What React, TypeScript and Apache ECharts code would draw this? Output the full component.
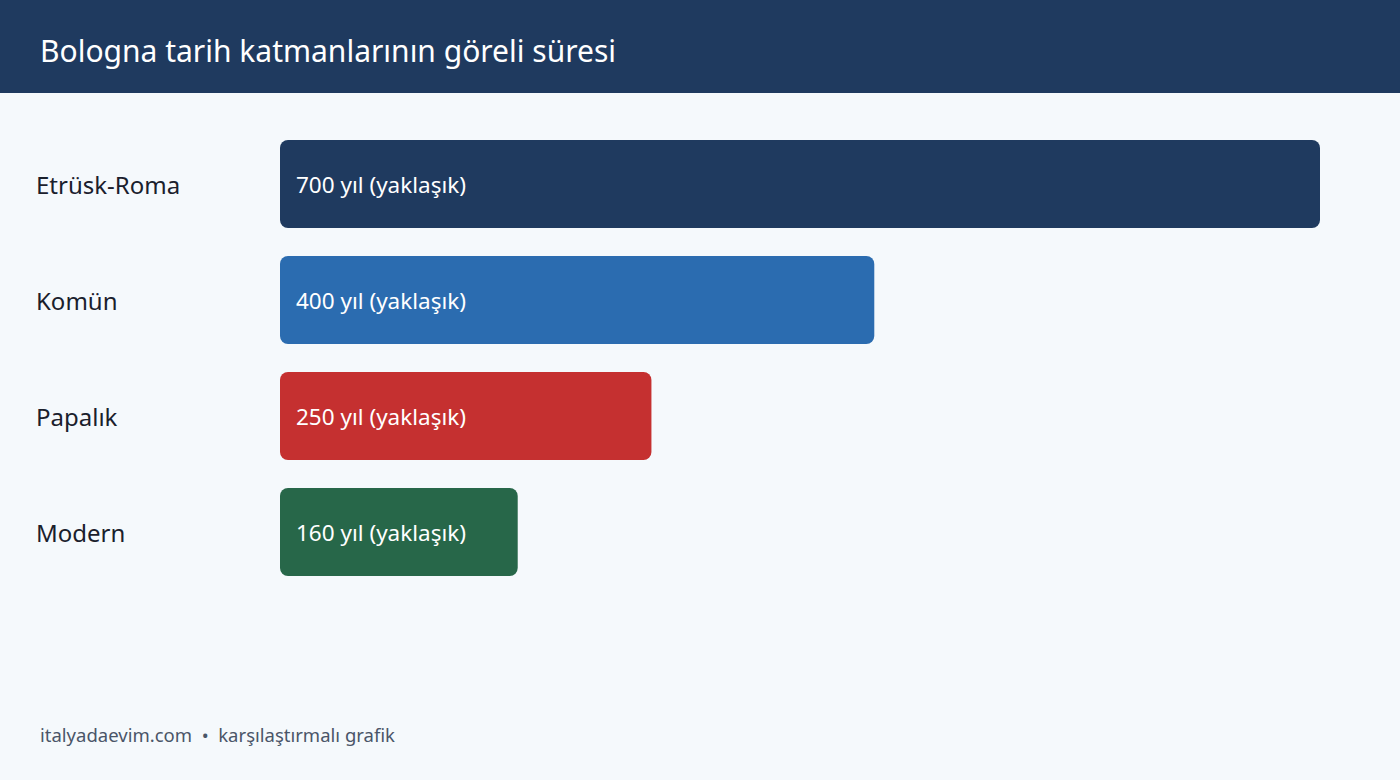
import * as echarts from "echarts";
import React, { useEffect, useRef } from "react";

const categories = ["Etrüsk-Roma", "Komün", "Papalık", "Modern"];
const durations = [700, 400, 250, 160];
const barColors = ["#1f3a5f", "#2b6cb0", "#c53030", "#276749"];
const labelSuffix = " yıl (yaklaşık)";

const FONT = "'Noto Sans', 'Open Sans', sans-serif";

const App: React.FC = () => {
  const chartRef = useRef<HTMLDivElement>(null);

  useEffect(() => {
    document.body.style.margin = "0";
    if (!chartRef.current) return;
    const myChart = echarts.init(chartRef.current, null, { renderer: "svg" });

    const option = {
      animation: false,
      backgroundColor: "#f5f9fc",
      title: {
        text: "Bologna tarih katmanlarının göreli süresi",
        left: 40,
        top: 35,
        padding: 0,
        textStyle: {
          color: "#ffffff",
          fontFamily: FONT,
          fontSize: 30,
          fontWeight: "normal",
        },
      },
      graphic: [
        {
          type: "rect",
          z: -1,
          shape: { x: 0, y: 0, width: 1400, height: 93 },
          style: { fill: "#1f3a5f" },
        },
        {
          type: "text",
          left: 40,
          top: 725,
          style: {
            text: "italyadaevim.com  •  karşılaştırmalı grafik",
            fill: "#4a5568",
            font: `18.5px ${FONT}`,
          },
        },
      ],
      grid: { left: 280, top: 126, width: 1040, height: 464 },
      xAxis: {
        type: "value",
        min: 0,
        max: 700,
        show: false,
      },
      yAxis: {
        type: "category",
        inverse: true,
        data: categories,
        axisLine: { show: false },
        axisTick: { show: false },
        axisLabel: {
          align: "left",
          margin: 244,
          color: "#1a202c",
          fontFamily: FONT,
          fontSize: 24,
        },
      },
      series: [
        {
          type: "bar",
          barWidth: 88,
          data: durations.map((v, i) => ({
            value: v,
            itemStyle: { color: barColors[i], borderRadius: 8 },
          })),
          label: {
            show: true,
            position: "insideLeft",
            distance: 16,
            color: "#ffffff",
            fontFamily: FONT,
            fontSize: 22.5,
            formatter: (p: any) => `${p.value}${labelSuffix}`,
          },
        },
      ],
    };

    myChart.setOption(option);
    return () => {
      myChart.dispose();
    };
  }, []);

  return <div ref={chartRef} style={{ width: "1400px", height: "780px" }}></div>;
};

export default App;
